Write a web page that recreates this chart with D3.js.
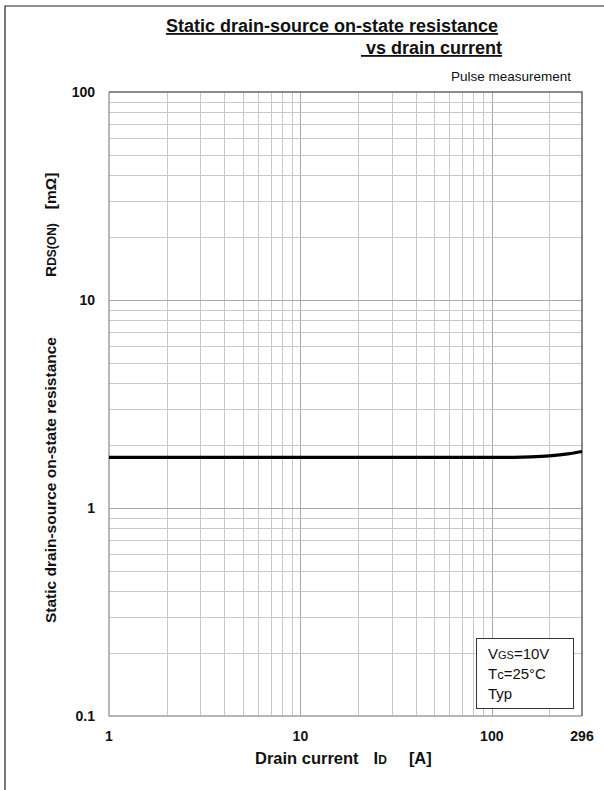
<!DOCTYPE html>
<html>
<head>
<meta charset="utf-8">
<script src="https://cdn.jsdelivr.net/npm/d3@7"></script>
<style>
    body { margin: 0; background: #fff; }
    svg text { font-family: "Liberation Sans", Arial, sans-serif; fill: #111; }
</style>
</head>
<body>
<svg id="chart" width="604" height="790"></svg>
<script>
// drain current [A] and RDS(on) [mOhm]
var current = [1, 2, 5, 10, 20, 50, 100, 130, 160, 200, 250, 296];
var rdsOn = [1.75, 1.75, 1.75, 1.75, 1.75, 1.75, 1.75, 1.752, 1.76, 1.78, 1.82, 1.87];

var xTicks = [1, 10, 100, 296];
var yTicks = [0.1, 1, 10, 100];
var legendLines = ["VGS=10V", "Tc=25°C", "Typ"];

var svg = d3.select("#chart");
var plotL = 109, plotR = 582, plotT = 92, plotB = 716;

var x = d3.scaleLog().domain([1, 296]).range([plotL, plotR]);
var y = d3.scaleLog().domain([0.1, 100]).range([plotB, plotT]);

// page frame
svg.append("path")
    .attr("d", "M5,790 V6 H604")
    .attr("fill", "none")
    .attr("stroke", "#222")
    .attr("stroke-width", 1.2);

// grid lines
var xGrid = [];
[1, 10, 100].forEach(function (d) {
    for (var k = 1; k <= 9; k++) {
        var v = d * k;
        if (v > 1 && v < 296) xGrid.push(v);
    }
});
var yGrid = [];
[0.1, 1, 10].forEach(function (d) {
    for (var k = 1; k <= 9; k++) {
        var v = d * k;
        if (v > 0.1 * 1.0001) yGrid.push(v);
    }
});
yGrid.push(10 * 10);
yGrid = yGrid.filter(function (v) { return v < 99.99; });

function isDecade(v) {
    var l = Math.log10(v);
    return Math.abs(l - Math.round(l)) < 1e-6;
}

svg.append("g").selectAll("line").data(xGrid).enter().append("line")
    .attr("x1", function (d) { return Math.round(x(d)) + 0.5; })
    .attr("x2", function (d) { return Math.round(x(d)) + 0.5; })
    .attr("y1", plotT).attr("y2", plotB)
    .attr("stroke", function (d) { return isDecade(d) ? "#a8a8a8" : "#c8c8c8"; })
    .attr("stroke-width", 1);

svg.append("g").selectAll("line").data(yGrid).enter().append("line")
    .attr("y1", function (d) { return Math.round(y(d)) + 0.5; })
    .attr("y2", function (d) { return Math.round(y(d)) + 0.5; })
    .attr("x1", plotL).attr("x2", plotR)
    .attr("stroke", function (d) { return isDecade(d) ? "#a8a8a8" : "#c8c8c8"; })
    .attr("stroke-width", 1);

// plot border: left/bottom grey, top/right dark
svg.append("path")
    .attr("d", "M" + plotL + "," + plotT + " V" + plotB + " H" + plotR)
    .attr("fill", "none").attr("stroke", "#a0a0a0").attr("stroke-width", 1.5);
svg.append("path")
    .attr("d", "M" + plotL + "," + plotT + " H" + plotR + " V" + plotB)
    .attr("fill", "none").attr("stroke", "#666").attr("stroke-width", 1.5);

// curve
var line = d3.line()
    .x(function (d, i) { return x(current[i]); })
    .y(function (d) { return y(d); })
    .curve(d3.curveMonotoneX);

svg.append("path")
    .datum(rdsOn)
    .attr("d", line)
    .attr("fill", "none")
    .attr("stroke", "#000")
    .attr("stroke-width", 3.2);

// tick labels
svg.append("g").selectAll("text").data(yTicks).enter().append("text")
    .attr("x", 95)
    .attr("y", function (d) { return y(d) + 5; })
    .attr("text-anchor", "end")
    .attr("font-size", 14).attr("font-weight", "bold")
    .text(function (d) { return d; });

svg.append("g").selectAll("text").data(xTicks).enter().append("text")
    .attr("x", function (d) { return x(d); })
    .attr("y", 741)
    .attr("text-anchor", "middle")
    .attr("font-size", 14).attr("font-weight", "bold")
    .text(function (d) { return d; });

// title
svg.append("text")
    .attr("x", 332).attr("y", 32)
    .attr("text-anchor", "middle")
    .attr("font-size", 18).attr("font-weight", "bold")
    .attr("text-decoration", "underline")
    .text("Static drain-source on-state resistance");
svg.append("text")
    .attr("x", 502).attr("y", 54)
    .attr("text-anchor", "end")
    .attr("font-size", 18).attr("font-weight", "bold")
    .attr("text-decoration", "underline")
    .attr("xml:space", "preserve")
    .text(" vs drain current");

svg.append("text")
    .attr("x", 571).attr("y", 81)
    .attr("text-anchor", "end")
    .attr("font-size", 13.5)
    .text("Pulse measurement");

// y axis label
var yl = svg.append("text")
    .attr("transform", "translate(56,623) rotate(-90)")
    .attr("font-size", 15.5).attr("font-weight", "bold");
yl.append("tspan").text("Static drain-source on-state resistance");
yl.append("tspan").attr("dx", 60).text("R");
yl.append("tspan").attr("font-size", 12).text("DS(ON)");
yl.append("tspan").attr("dx", 14).text("[mΩ]");

// x axis label
var xl = svg.append("text")
    .attr("x", 255).attr("y", 764)
    .attr("font-size", 16.5).attr("font-weight", "bold");
xl.append("tspan").text("Drain current");
xl.append("tspan").attr("dx", 15).text("I");
xl.append("tspan").attr("font-size", 12).text("D");
xl.append("tspan").attr("dx", 22).text("[A]");

// legend box
svg.append("rect")
    .attr("x", 476.5).attr("y", 638.5)
    .attr("width", 97).attr("height", 70)
    .attr("fill", "#fff").attr("stroke", "#333").attr("stroke-width", 1);

var lg = svg.append("g").attr("font-size", 15);
var l1 = lg.append("text").attr("x", 488).attr("y", 659);
l1.append("tspan").text("V");
l1.append("tspan").attr("font-size", 11).text("GS");
l1.append("tspan").text("=10V");
var l2 = lg.append("text").attr("x", 488).attr("y", 679);
l2.append("tspan").text("T");
l2.append("tspan").attr("font-size", 13).text("c");
l2.append("tspan").text("=25°C");
lg.append("text").attr("x", 488).attr("y", 699).text(legendLines[2]);
</script>
</body>
</html>
